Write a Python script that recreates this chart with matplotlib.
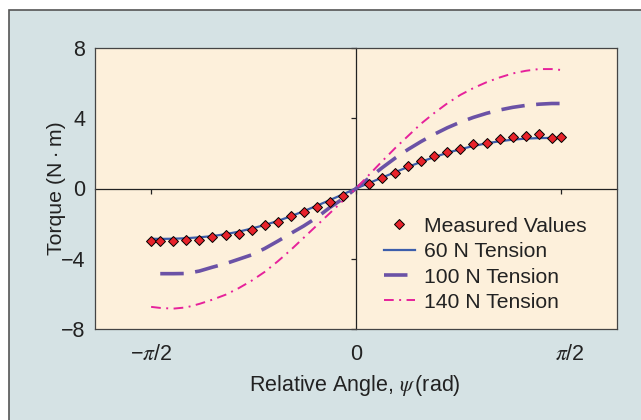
import numpy as np
import matplotlib
matplotlib.use("Agg")
import matplotlib.pyplot as plt
from matplotlib.patches import Rectangle
from matplotlib.transforms import ScaledTranslation

plt.rcParams['font.family'] = ['Liberation Sans', 'DejaVu Sans']
plt.rcParams['mathtext.fontset'] = 'stix'

# measured torque points (rad, N*m)
psi_meas = [-1.57, -1.5, -1.4, -1.3, -1.2, -1.1, -1.0, -0.9, -0.8, -0.7, -0.6, -0.5, -0.4, -0.3, -0.2, -0.1,
            0.1, 0.2, 0.3, 0.4, 0.5, 0.6, 0.7, 0.8, 0.9, 1.0, 1.1, 1.2, 1.3, 1.4, 1.5, 1.57]
torque_meas = [-2.99, -2.99, -2.99, -2.93, -2.93, -2.77, -2.67, -2.59, -2.35, -2.10, -1.91, -1.59, -1.31, -1.08, -0.76, -0.44,
               0.27, 0.59, 0.91, 1.27, 1.59, 1.84, 2.10, 2.27, 2.52, 2.57, 2.84, 2.94, 3.01, 3.09, 2.86, 2.94]

# model curves
psi_fit = [-1.57, -1.5, -1.4, -1.3, -1.2, -1.1, -1.0, -0.9, -0.8, -0.7, -0.6, -0.5, -0.4, -0.3, -0.2, -0.1, 0.0,
           0.1, 0.2, 0.3, 0.4, 0.5, 0.6, 0.7, 0.8, 0.9, 1.0, 1.1, 1.2, 1.3, 1.4, 1.5, 1.57]
torque_60 = [-2.86, -2.87, -2.86, -2.83, -2.78, -2.71, -2.60, -2.46, -2.28, -2.08, -1.85, -1.58, -1.29, -0.98, -0.66, -0.33, 0.0,
             0.31, 0.62, 0.93, 1.23, 1.52, 1.79, 2.03, 2.24, 2.42, 2.57, 2.69, 2.78, 2.84, 2.87, 2.88, 2.87]
psi_fit100 = psi_fit[1:]
torque_100 = [-4.85, -4.85, -4.84, -4.70, -4.48, -4.28, -4.03, -3.78, -3.42, -3.00, -2.56, -2.13, -1.65, -1.08, -0.58, 0.0,
              0.60, 1.18, 1.73, 2.23, 2.68, 3.09, 3.46, 3.78, 4.05, 4.28, 4.47, 4.62, 4.73, 4.80, 4.84, 4.84]
torque_140 = [-6.74, -6.80, -6.84, -6.77, -6.57, -6.33, -6.05, -5.68, -5.25, -4.75, -4.15, -3.50, -2.80, -2.10, -1.40, -0.70, 0.0,
              0.78, 1.55, 2.30, 3.00, 3.70, 4.30, 4.85, 5.33, 5.72, 6.05, 6.32, 6.55, 6.70, 6.80, 6.80, 6.75]

bg = '#d5e2e4'
face = '#fdf0db'
dark = '#222222'

fig = plt.figure(figsize=(6.41, 4.20), dpi=100, facecolor='white')
# outer panel with frame on left/top
fig.patches.append(Rectangle((8.5 / 641, -0.1), 1.2, 1.1 - 10.5 / 420,
                             transform=fig.transFigure, facecolor=bg, edgecolor='#555555',
                             linewidth=1.2, zorder=-10))

pos = [95 / 641, 91 / 420, 522 / 641, 281 / 420]

# background axes: beige face + center axes with ticks
ax_bg = fig.add_axes(pos, facecolor=face)
ax_bg.set_xlim(-2, 2)
ax_bg.set_ylim(-8, 8)
ax_bg.spines['top'].set_visible(False)
ax_bg.spines['right'].set_visible(False)
ax_bg.spines['left'].set_position('zero')
ax_bg.spines['bottom'].set_position('zero')
for s in ('left', 'bottom'):
    ax_bg.spines[s].set_color(dark)
    ax_bg.spines[s].set_linewidth(0.9)
ax_bg.set_xticks([-1.5, -1.0, -0.5, 0.5, 1.0, 1.5])
ax_bg.set_yticks([-6, -4, -2, 2, 4, 6])
ax_bg.tick_params(direction='out', length=3.5, width=0.9, color=dark,
                  labelbottom=False, labelleft=False)

# data axes on top
ax = fig.add_axes(pos, facecolor='none', sharex=ax_bg, sharey=ax_bg)
for s in ax.spines.values():
    s.set_color('#444444')
    s.set_linewidth(0.9)

ax.plot(psi_fit, torque_60, color='#3d5eab', lw=1.6, label='60 N Tension', zorder=3)
ax.plot(psi_fit100, torque_100, color='#6b52a6', lw=2.6, dashes=(6.5, 3.2), label='100 N Tension', zorder=3)
ax.plot(psi_fit, torque_140, color='#e6219b', lw=1.4, dashes=(5.0, 2.8, 1.0, 2.8), label='140 N Tension', zorder=3)
ax.plot(psi_meas, torque_meas, linestyle='none', marker='D', markersize=4.8,
        markerfacecolor='#e8232b', markeredgecolor='black', markeredgewidth=0.7,
        label='Measured Values', zorder=4)

ax.set_xticks([-np.pi / 2, 0, np.pi / 2])
ax.set_xticklabels(['\u2212$\\pi$/2', '0', '$\\pi$/2'])
ax.set_yticks([-8, -4, 0, 4, 8])
ax.set_yticklabels(['\u22128', '\u22124', '0', '4', '8'])
ax.tick_params(axis='both', length=0, labelsize=15.5, labelcolor=dark)
ax.tick_params(axis='x', pad=11)
ax.tick_params(axis='y', pad=7)
lab = ax.get_xticklabels()[2]
lab.set_transform(lab.get_transform() + ScaledTranslation(0.09, 0, fig.dpi_scale_trans))

ax.set_xlabel(r'Relative Angle, $\psi\,$(rad)', fontsize=15.5, color=dark)
ax.set_ylabel('Torque (N\u2009\u00b7\u2009m)', fontsize=15.3, color=dark)
ax.xaxis.set_label_coords(0.497, -0.155)
ax.yaxis.set_label_coords(-0.056, 0.5)

h, l = ax.get_legend_handles_labels()
order = [3, 0, 1, 2]
leg = ax.legend([h[i] for i in order], [l[i] for i in order], loc='center left',
                bbox_to_anchor=(0.553, 0.23), frameon=False, fontsize=15.2,
                borderpad=0, borderaxespad=0, handlelength=1.5, handletextpad=0.42,
                labelspacing=0.3, numpoints=1)
for t in leg.get_texts():
    t.set_color(dark)

fig.savefig('out.png', dpi=100, facecolor=fig.get_facecolor())
